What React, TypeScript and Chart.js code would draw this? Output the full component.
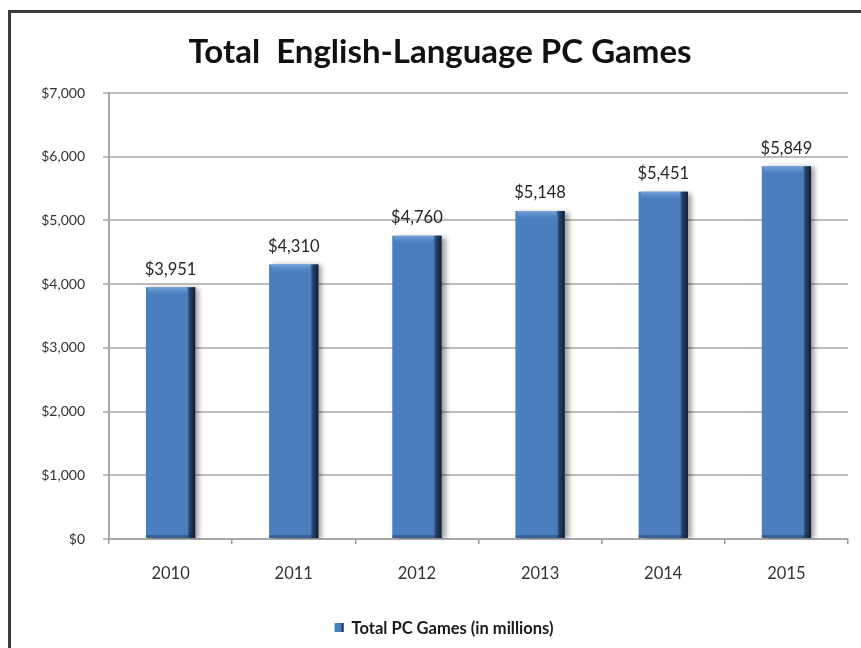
import React, { useEffect, useRef } from "react";
import { Chart, registerables } from "chart.js";

Chart.register(...registerables);

const TITLE = "Total  English-Language PC Games";
const SERIES_LABEL = "Total PC Games (in millions)";
const YEARS = ["2010", "2011", "2012", "2013", "2014", "2015"];
const REVENUE = [3951, 4310, 4760, 5148, 5451, 5849];
const Y_MIN = 0;
const Y_MAX = 7000;
const Y_STEP = 1000;

const FONT = "Lato, 'Open Sans', sans-serif";
const BAR_BLUE = "#4a7ebf";

const fmt = (v: number) => "$" + v.toLocaleString("en-US");

const decorPlugin = {
  id: "decor",
  beforeDatasetsDraw(chart: any) {
    const ctx = chart.ctx;
    ctx.save();
    ctx.shadowColor = "rgba(0,0,0,0.38)";
    ctx.shadowOffsetX = 4;
    ctx.shadowOffsetY = 1;
    ctx.shadowBlur = 5;
  },
  afterDatasetsDraw(chart: any) {
    const ctx = chart.ctx;
    ctx.restore();
    const meta = chart.getDatasetMeta(0);
    const data = chart.data.datasets[0].data as number[];
    meta.data.forEach((bar: any, i: number) => {
      const { x, y, base, width } = bar.getProps(["x", "y", "base", "width"], true);
      const left = x - width / 2;
      const right = x + width / 2;
      // dark right edge
      const g = ctx.createLinearGradient(right - 8, 0, right, 0);
      g.addColorStop(0, "rgba(31,56,92,0)");
      g.addColorStop(0.3, "#27446b");
      g.addColorStop(1, "#0f1c30");
      ctx.fillStyle = g;
      ctx.fillRect(right - 8, y, 8, base - y);
      // lighter top bevel
      const t = ctx.createLinearGradient(0, y, 0, y + 8);
      t.addColorStop(0, "#7aa6da");
      t.addColorStop(1, "rgba(90,140,200,0)");
      ctx.fillStyle = t;
      ctx.fillRect(left + 2, y, width - 10, 8);
      // subtle bottom darker line
      ctx.fillStyle = "rgba(20,40,70,0.35)";
      ctx.fillRect(left, base - 3, width, 3);
      // value label
      ctx.fillStyle = "#262626";
      ctx.font = `16.5px ${FONT}`;
      ctx.textAlign = "center";
      ctx.textBaseline = "middle";
      ctx.fillText(fmt(data[i]), x, y - 18);
    });
  },
  afterDraw(chart: any) {
    const ctx = chart.ctx;
    ctx.save();
    // title
    ctx.fillStyle = "#111111";
    ctx.font = `bold 33px ${FONT}`;
    ctx.textAlign = "center";
    ctx.textBaseline = "middle";
    ctx.fillText(TITLE, 440, 52);
    // legend
    const label = chart.data.datasets[0].label as string;
    ctx.font = `bold 16.5px ${FONT}`;
    const tw = ctx.measureText(label).width;
    const box = 9;
    const gap = 8;
    const total = box + gap + tw;
    const sx = 444 - total / 2;
    const cy = 628;
    ctx.fillStyle = BAR_BLUE;
    ctx.fillRect(sx, cy - 5, box, box);
    ctx.fillStyle = "#1f3a60";
    ctx.fillRect(sx + box - 2, cy - 5, 2, box);
    ctx.fillStyle = "#1a1a1a";
    ctx.textAlign = "left";
    ctx.fillText(label, sx + box + gap, cy + 1);
    ctx.restore();
  },
};

const bgPlugin = {
  id: "bg",
  beforeDraw(chart: any) {
    const ctx = chart.ctx;
    ctx.save();
    ctx.fillStyle = "#ffffff";
    ctx.fillRect(0, 0, chart.width, chart.height);
    ctx.restore();
  },
};

export default function App() {
  const ref = useRef<HTMLCanvasElement>(null);

  useEffect(() => {
    document.body.style.margin = "0";
    const canvas = ref.current;
    if (!canvas) return;
    const chart = new Chart(canvas, {
      type: "bar",
      data: {
        labels: YEARS,
        datasets: [
          {
            label: SERIES_LABEL,
            data: REVENUE,
            backgroundColor: BAR_BLUE,
            borderWidth: 0,
            barPercentage: 0.4,
            categoryPercentage: 1,
          },
        ],
      },
      options: {
        animation: false,
        responsive: false,
        maintainAspectRatio: false,
        devicePixelRatio: 1,
        layout: { padding: { top: 93, right: 13, bottom: 0, left: 0 } },
        plugins: {
          legend: { display: false },
          title: { display: false },
          tooltip: { enabled: false },
        },
        scales: {
          x: {
            grid: {
              display: true,
              drawOnChartArea: false,
              tickLength: 5,
              color: "#9a9a9a",
              lineWidth: 1.5,
            },
            border: { display: true, color: "#a8a8a8", width: 2 },
            ticks: {
              color: "#333333",
              font: { family: FONT, size: 16.5 },
              padding: 20,
            },
            afterFit(scale: any) {
              scale.height = 109;
            },
          },
          y: {
            min: Y_MIN,
            max: Y_MAX,
            ticks: {
              stepSize: Y_STEP,
              color: "#333333",
              font: { family: FONT, size: 14 },
              padding: 18,
              callback: (v: any) => fmt(Number(v)),
            },
            grid: {
              color: "#bdbdbd",
              lineWidth: 2,
              tickLength: 6,
            },
            border: { display: true, color: "#a8a8a8", width: 2 },
            afterFit(scale: any) {
              scale.width = 109;
            },
          },
        },
      },
      plugins: [bgPlugin, decorPlugin],
    });
    return () => chart.destroy();
  }, []);

  return (
    <div style={{ position: "relative", width: 861, height: 648, overflow: "hidden", background: "#fff" }}>
      <canvas ref={ref} width={861} height={648} style={{ display: "block", width: 861, height: 648 }} />
      <div
        style={{
          position: "absolute",
          left: 8,
          top: 10,
          width: 900,
          height: 700,
          borderTop: "3px solid #3c3c3c",
          borderLeft: "3px solid #3c3c3c",
          pointerEvents: "none",
        }}
      />
    </div>
  );
}
